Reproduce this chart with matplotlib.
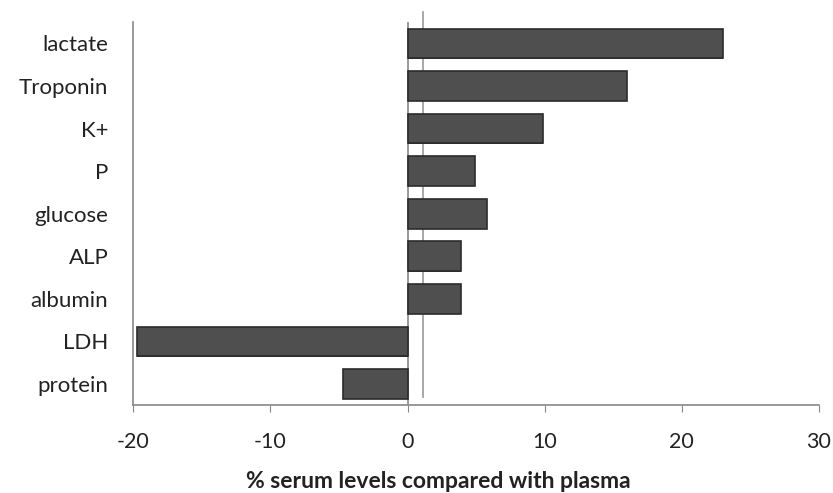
import matplotlib
matplotlib.use("Agg")
import matplotlib.pyplot as plt
import numpy as np

categories = ["lactate", "Troponin", "K+", "P", "glucose", "ALP", "albumin", "LDH", "protein"]
values = [23.0, 16.0, 9.9, 4.9, 5.8, 3.9, 3.9, -19.7, -4.7]
xticks = [-20, -10, 0, 10, 20, 30]
xlabel = "% serum levels compared with plasma"

plt.rcParams['font.family'] = ['Lato', 'DejaVu Sans']

fig = plt.figure(figsize=(8.33, 4.93), dpi=100)
ax = fig.add_axes([0.16, 0.178, 0.823, 0.777])

y = np.arange(len(categories))
ax.barh(y, values, height=0.7, color='#4f4f4f', edgecolor='#2b2b2b', linewidth=1.2, zorder=3)
# darker depth face for a 3D look
ax.barh(y + 0.3, values, height=0.12, color='#3a3a3a', edgecolor='none', zorder=2)

ax.set_ylim(len(categories) - 0.5, -0.5)
ax.set_xlim(-20, 30)
ax.set_yticks(y)
ax.set_yticklabels(categories, fontsize=16, color='#222222')
ax.set_xticks(xticks)
ax.set_xticklabels([str(t) for t in xticks], fontsize=15.5, color='#222222')
ax.tick_params(axis='y', length=0, pad=18)
ax.tick_params(axis='x', length=5, color='#888888', pad=14)

for s in ['top', 'right']:
    ax.spines[s].set_visible(False)
for s in ['left', 'bottom']:
    ax.spines[s].set_color('#888888')
    ax.spines[s].set_linewidth(1.2)

ax.axvline(0, color='#888888', lw=1.2, zorder=1)
ax.plot([1.1, 1.1], [8.3, -0.75], color='#999999', lw=1.2, zorder=1, clip_on=False)

ax.set_xlabel(xlabel, fontsize=16.5, fontweight='bold', color='#222222')
ax.xaxis.set_label_coords(0.445, -0.172)

fig.savefig("out.png", dpi=100, facecolor='white')
